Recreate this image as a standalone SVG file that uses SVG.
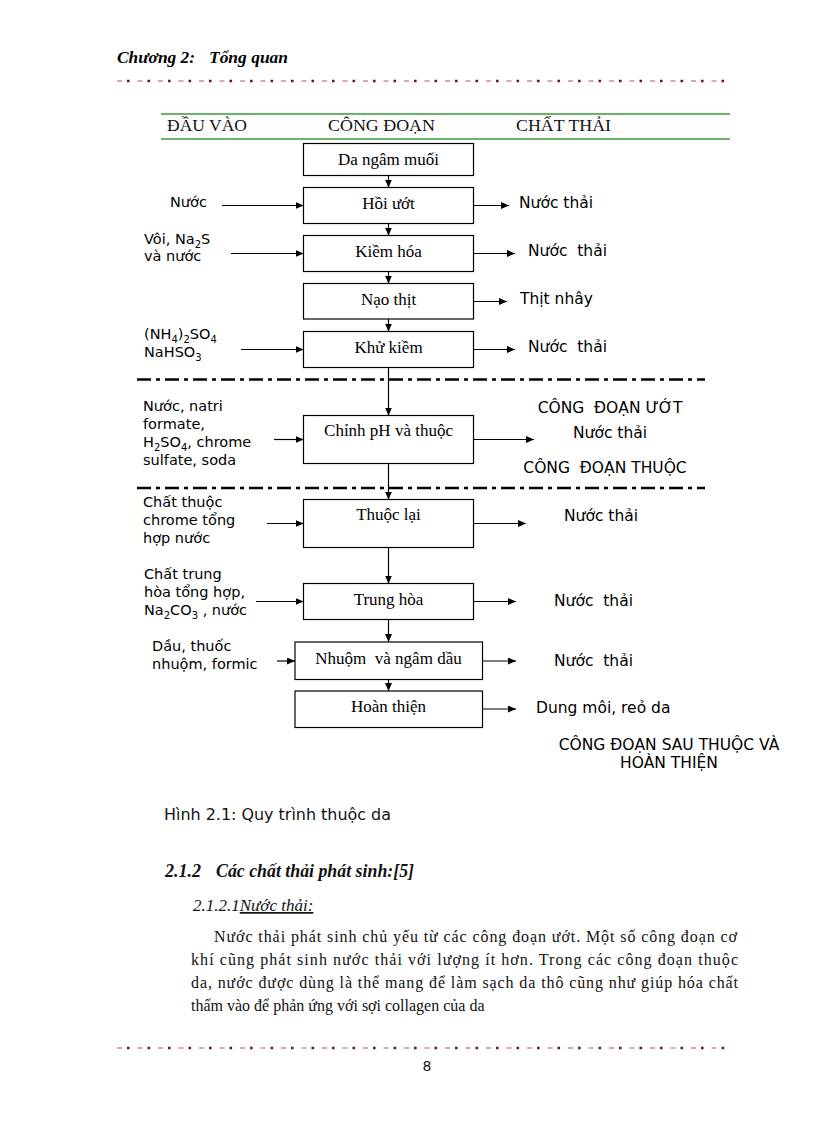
<svg xmlns="http://www.w3.org/2000/svg" width="816" height="1123" viewBox="0 0 816 1123">
<defs>
<marker id="ah" markerUnits="userSpaceOnUse" markerWidth="9" markerHeight="8" refX="8" refY="3.5" orient="auto">
<path d="M0,0 L8,3.5 L0,7 z" fill="#000"/>
</marker>
<style>
.box{fill:#fff;stroke:#000;stroke-width:1.2}
.bl{font-family:"Liberation Serif","Times New Roman",serif;font-size:17px;text-anchor:middle;fill:#000}
.in{font-family:"DejaVu Sans",Verdana,sans-serif;font-size:14.5px;fill:#000}
.out{font-family:"DejaVu Sans",Verdana,sans-serif;font-size:15.5px;fill:#000}
.con{stroke:#000;stroke-width:1.2;fill:none;marker-end:url(#ah)}
.dd{stroke:#000;stroke-width:2.6;stroke-dasharray:14 5 4 5;fill:none}
.hdr{font-family:"Liberation Serif","Times New Roman",serif;font-size:16px;fill:#111}
.par{font-family:"Liberation Serif","Times New Roman",serif;font-size:16px;fill:#111}
.dots{stroke:#6b0f3f;stroke-width:2.6;stroke-dasharray:2.6 17.9;fill:none}
.dash{stroke:#c889aa;stroke-width:1.4;stroke-dasharray:5 15.5;fill:none}
.green{stroke:#3a9a3a;stroke-width:1.3;fill:none}
.ttl{font-family:"Liberation Serif","Times New Roman",serif;font-size:17px;font-weight:bold;font-style:italic;fill:#000}
</style>
</defs>
<rect width="816" height="1123" fill="#fff"/>

<!-- page header -->
<g id="page-header">
<text class="ttl" x="117" y="63" textLength="78" lengthAdjust="spacingAndGlyphs">Chương 2:</text>
<text class="ttl" x="209" y="63" textLength="79" lengthAdjust="spacingAndGlyphs">Tổng quan</text>
<line class="dash" x1="117" y1="81" x2="730" y2="81"/>
<line class="dots" x1="127" y1="81" x2="730" y2="81"/>
</g>

<!-- table header -->
<g id="table-header">
<line class="green" x1="161" y1="114" x2="730" y2="114"/>
<line class="green" x1="161" y1="139" x2="730" y2="139"/>
<text class="hdr" x="167" y="131" textLength="80" lengthAdjust="spacingAndGlyphs">ĐẦU VÀO</text>
<text class="hdr" x="328" y="131" textLength="107" lengthAdjust="spacingAndGlyphs">CÔNG ĐOẠN</text>
<text class="hdr" x="516" y="131" textLength="95" lengthAdjust="spacingAndGlyphs">CHẤT THẢI</text>
</g>

<!-- stage separators -->
<g id="separators">
<line class="dd" x1="137" y1="379.5" x2="705" y2="379.5"/>
<line class="dd" x1="137" y1="488" x2="705" y2="488"/>
</g>

<!-- process nodes -->
<g id="n1"><rect class="box" x="303.5" y="143.5" width="170" height="32"/><text class="bl" x="388.5" y="165">Da ngâm muối</text></g>
<g id="n2"><rect class="box" x="303.5" y="187.5" width="170" height="36"/><text class="bl" x="388.5" y="209">Hồi ướt</text></g>
<g id="n3"><rect class="box" x="303.5" y="235.5" width="170" height="36"/><text class="bl" x="388.5" y="257">Kiềm hóa</text></g>
<g id="n4"><rect class="box" x="303.5" y="283.5" width="170" height="35.5"/><text class="bl" x="388.5" y="305">Nạo thịt</text></g>
<g id="n5"><rect class="box" x="303.5" y="331.5" width="170" height="36"/><text class="bl" x="388.5" y="353">Khử kiềm</text></g>
<g id="n6"><rect class="box" x="303.5" y="415.5" width="170" height="48"/><text class="bl" x="388.5" y="436">Chỉnh pH và thuộc</text></g>
<g id="n7"><rect class="box" x="303.5" y="499.5" width="170" height="48"/><text class="bl" x="388.5" y="520">Thuộc lại</text></g>
<g id="n8"><rect class="box" x="303.5" y="583.5" width="170" height="36"/><text class="bl" x="388.5" y="605">Trung hòa</text></g>
<g id="n9"><rect class="box" x="295" y="642" width="187.5" height="37.5"/><text class="bl" x="388.5" y="664" xml:space="preserve">Nhuộm  và ngâm dầu</text></g>
<g id="n10"><rect class="box" x="295" y="691" width="187.5" height="36.5"/><text class="bl" x="388.5" y="712">Hoàn thiện</text></g>

<!-- connectors -->
<g id="connectors">
<line class="con" x1="388.5" y1="175.5" x2="388.5" y2="187.5"/>
<line class="con" x1="388.5" y1="223.5" x2="388.5" y2="235.5"/>
<line class="con" x1="388.5" y1="271.5" x2="388.5" y2="283.5"/>
<line class="con" x1="388.5" y1="319" x2="388.5" y2="331.5"/>
<line class="con" x1="388.5" y1="367.5" x2="388.5" y2="415.5"/>
<line class="con" x1="388.5" y1="463.5" x2="388.5" y2="499.5"/>
<line class="con" x1="388.5" y1="547.5" x2="388.5" y2="583.5"/>
<line class="con" x1="388.5" y1="619.5" x2="388.5" y2="642"/>
<line class="con" x1="388.5" y1="679.5" x2="388.5" y2="691"/>
<!-- inputs -->
<line class="con" x1="222" y1="205.5" x2="303.5" y2="205.5"/>
<line class="con" x1="231" y1="253.5" x2="303.5" y2="253.5"/>
<line class="con" x1="241" y1="349.5" x2="303.5" y2="349.5"/>
<line class="con" x1="274" y1="439.5" x2="303.5" y2="439.5"/>
<line class="con" x1="267" y1="523.5" x2="303.5" y2="523.5"/>
<line class="con" x1="256" y1="601.5" x2="303.5" y2="601.5"/>
<line class="con" x1="277" y1="661" x2="295" y2="661"/>
<!-- outputs -->
<line class="con" x1="473.5" y1="205.5" x2="509" y2="205.5"/>
<line class="con" x1="473.5" y1="253.5" x2="515" y2="253.5"/>
<line class="con" x1="473.5" y1="301.5" x2="507" y2="301.5"/>
<line class="con" x1="473.5" y1="349.5" x2="515" y2="349.5"/>
<line class="con" x1="473.5" y1="439.5" x2="534" y2="439.5"/>
<line class="con" x1="473.5" y1="523.5" x2="526" y2="523.5"/>
<line class="con" x1="473.5" y1="601.5" x2="516" y2="601.5"/>
<line class="con" x1="482.5" y1="661" x2="516" y2="661"/>
<line class="con" x1="482.5" y1="709" x2="516" y2="709"/>
</g>

<!-- input labels -->
<g id="inputs">
<text class="in" x="170" y="207">Nước</text>
<text class="in" x="144" y="244">Vôi, Na<tspan font-size="10" dy="4">2</tspan><tspan dy="-4">S</tspan></text>
<text class="in" x="144" y="261">và nước</text>
<text class="in" x="144" y="339">(NH<tspan font-size="10" dy="4">4</tspan><tspan dy="-4">)</tspan><tspan font-size="10" dy="4">2</tspan><tspan dy="-4">SO</tspan><tspan font-size="10" dy="4">4</tspan></text>
<text class="in" x="144" y="357">NaHSO<tspan font-size="10" dy="4">3</tspan></text>
<text class="in" x="143" y="411">Nước, natri</text>
<text class="in" x="143" y="429">formate,</text>
<text class="in" x="143" y="447">H<tspan font-size="10" dy="4">2</tspan><tspan dy="-4">SO</tspan><tspan font-size="10" dy="4">4</tspan><tspan dy="-4">, chrome</tspan></text>
<text class="in" x="143" y="465">sulfate, soda</text>
<text class="in" x="143" y="507">Chất thuộc</text>
<text class="in" x="143" y="525">chrome tổng</text>
<text class="in" x="143" y="543">hợp nước</text>
<text class="in" x="144" y="579">Chất trung</text>
<text class="in" x="144" y="597">hòa tổng hợp,</text>
<text class="in" x="144" y="615">Na<tspan font-size="10" dy="4">2</tspan><tspan dy="-4">CO</tspan><tspan font-size="10" dy="4">3</tspan><tspan dy="-4"> , nước</tspan></text>
<text class="in" x="152" y="651">Dầu, thuốc</text>
<text class="in" x="152" y="669">nhuộm, formic</text>
</g>

<!-- output labels -->
<g id="outputs">
<text class="out" x="519" y="208">Nước thải</text>
<text class="out" x="528" y="256" xml:space="preserve">Nước  thải</text>
<text class="out" x="520" y="304">Thịt nhây</text>
<text class="out" x="528" y="352" xml:space="preserve">Nước  thải</text>
<text class="out" x="610" y="413" text-anchor="middle" xml:space="preserve">CÔNG  ĐOẠN ƯỚT</text>
<text class="out" x="573" y="438">Nước thải</text>
<text class="out" x="605" y="473" text-anchor="middle" xml:space="preserve">CÔNG  ĐOẠN THUỘC</text>
<text class="out" x="564" y="521">Nước thải</text>
<text class="out" x="554" y="606" xml:space="preserve">Nước  thải</text>
<text class="out" x="554" y="666" xml:space="preserve">Nước  thải</text>
<text class="out" x="536" y="713">Dung môi, reỏ da</text>
<text class="out" x="669" y="750" text-anchor="middle">CÔNG ĐOẠN SAU THUỘC VÀ</text>
<text class="out" x="669" y="768" text-anchor="middle">HOÀN THIỆN</text>
</g>

<!-- caption and body -->
<g id="body">
<text x="164" y="820" font-family="DejaVu Sans,sans-serif" font-size="16" fill="#111" textLength="227" lengthAdjust="spacingAndGlyphs">Hình 2.1: Quy trình thuộc da</text>
<text x="165" y="877" font-family="Liberation Serif,serif" font-size="18" font-weight="bold" font-style="italic" fill="#111">2.1.2</text>
<text x="216" y="877" font-family="Liberation Serif,serif" font-size="18" font-weight="bold" font-style="italic" fill="#111" textLength="198" lengthAdjust="spacingAndGlyphs">Các chất thải phát sinh:[5]</text>
<text x="193" y="911" font-family="Liberation Serif,serif" font-size="17" font-style="italic" fill="#111">2.1.2.1<tspan text-decoration="underline">Nước thải:</tspan></text>
<text class="par" x="214" y="942" textLength="523" lengthAdjust="spacing">Nước thải phát sinh chủ yếu từ các công đoạn ướt. Một số công đoạn cơ</text>
<text class="par" x="191" y="965" textLength="547" lengthAdjust="spacing">khí cũng phát sinh nước thải với lượng ít hơn. Trong các công đoạn thuộc</text>
<text class="par" x="191" y="988" textLength="547" lengthAdjust="spacing">da, nước được dùng là thể mang để làm sạch da thô cũng như giúp hóa chất</text>
<text class="par" x="191" y="1011">thấm vào để phản ứng với sợi collagen của da</text>
</g>

<!-- footer -->
<g id="footer">
<line class="dash" x1="117" y1="1048" x2="730" y2="1048"/>
<line class="dots" x1="127" y1="1048" x2="730" y2="1048"/>
<text x="427" y="1071" font-family="DejaVu Sans,sans-serif" font-size="14" text-anchor="middle" fill="#111">8</text>
</g>
</svg>
